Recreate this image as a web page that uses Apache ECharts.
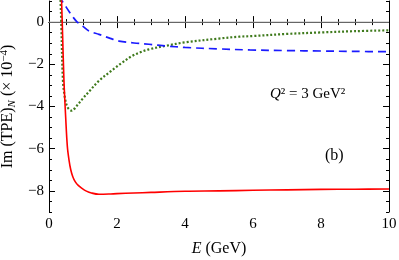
<!DOCTYPE html>
<html><head><meta charset="utf-8">
<script src="https://cdn.jsdelivr.net/npm/echarts@6/dist/echarts.min.js"></script>
<style>html,body{margin:0;padding:0;background:#fff}#c{width:399px;height:260px}</style>
</head><body><div id="c"></div>
<script>
const redE = [0.35,0.37,0.40,0.44,0.49,0.54,0.59,0.64,0.70,0.77,0.86,0.97,1.1,1.25,1.47,1.76,2.0,2.5,3.0,4.0,5.0,6.0,7.0,8.0,9.0,10.0];
const redV = [1.8,1.0,-0.6,-2.78,-4.5,-5.9,-6.55,-7.0,-7.33,-7.56,-7.74,-7.88,-8.01,-8.1,-8.16,-8.15,-8.13,-8.1,-8.07,-8.02,-8.0,-7.97,-7.95,-7.93,-7.92,-7.91];
const blueE = [0.36,0.39,0.45,0.5,0.6,0.7,0.83,1.0,1.18,1.47,1.8,2.06,2.5,2.94,3.45,4.0,5.0,5.9,7.0,8.0,9.0,10.0];
const blueV = [1.3,1.0,0.85,0.72,0.48,0.25,0.0,-0.2,-0.42,-0.58,-0.77,-0.9,-0.99,-1.05,-1.13,-1.2,-1.27,-1.32,-1.35,-1.37,-1.39,-1.4];
const greenE = [0.32,0.34,0.36,0.41,0.47,0.55,0.67,0.8,0.98,1.2,1.47,1.8,1.96,2.1,2.45,2.7,2.94,3.45,4.0,5.0,5.6,6.0,7.0,8.0,9.0,10.0];
const greenV = [2.0,1.0,0.0,-2.78,-3.6,-4.05,-4.2,-4.0,-3.65,-3.25,-2.78,-2.35,-2.15,-1.98,-1.6,-1.42,-1.29,-1.12,-0.96,-0.78,-0.69,-0.66,-0.56,-0.49,-0.43,-0.39];
const xTicks = [0,2,4,6,8,10];
const yTicks = [-8,-6,-4,-2,0];
const zeroLine = [[0,0],[10,0]];

const pairs = (a,b) => a.map((v,i)=>[v,b[i]]);
const font = 'Liberation Serif';
const minus = v => String(v).replace('-', '\u2212');

const ax = {color:'#000', width:1};
const option = {
  animation:false,
  grid:{left:49, right:10, top:1, bottom:48, containLabel:false, outerBoundsMode:'none'},
  xAxis:[
    {type:'value', min:0, max:10, interval:2, position:'bottom',
     axisLine:{lineStyle:ax}, splitLine:{show:false},
     axisTick:{inside:true, length:6, lineStyle:ax},
     minorTick:{show:true, splitNumber:4, length:3, lineStyle:ax},
     axisLabel:{fontFamily:font, fontSize:15, color:'#000', margin:5, formatter:v=>minus(v)},
     name:'{i|E} (GeV)', nameLocation:'middle', nameGap:29,
     nameTextStyle:{fontFamily:font, fontSize:16, color:'#000', rich:{i:{fontFamily:font, fontSize:16, fontStyle:'italic'}}}},
    {type:'value', min:0, max:10, interval:2, position:'top',
     axisLine:{lineStyle:ax}, splitLine:{show:false},
     axisTick:{inside:true, length:6, lineStyle:ax},
     minorTick:{show:true, splitNumber:4, length:3, lineStyle:ax},
     axisLabel:{show:false}}
  ],
  yAxis:[
    {type:'value', min:-9, max:1, position:'left',
     axisLine:{lineStyle:ax}, splitLine:{show:false},
     axisTick:{inside:true, length:6, lineStyle:ax, customValues:yTicks},
     axisLabel:{fontFamily:font, fontSize:15, color:'#000', margin:5, customValues:yTicks, formatter:v=>minus(v)},
     name:'Im (TPE){s|N} (\u00d7 10{p|\u22124})', nameLocation:'middle', nameRotate:90, nameGap:27,
     nameTextStyle:{fontFamily:font, fontSize:16, color:'#000',
       rich:{s:{fontFamily:font, fontSize:11, fontStyle:'italic', verticalAlign:'bottom', padding:[8,0,0,0]},
             p:{fontFamily:font, fontSize:11, verticalAlign:'top', padding:[0,0,8,0]}}}},
    {type:'value', min:-9, max:1, interval:0.5, position:'left',
     axisLine:{show:false}, splitLine:{show:false},
     axisTick:{inside:true, length:3, lineStyle:ax}, axisLabel:{show:false}},
    {type:'value', min:-9, max:1, position:'right',
     axisLine:{lineStyle:ax}, splitLine:{show:false},
     axisTick:{inside:true, length:6, lineStyle:ax, customValues:yTicks},
     axisLabel:{show:false}},
    {type:'value', min:-9, max:1, interval:0.5, position:'right',
     axisLine:{show:false}, splitLine:{show:false},
     axisTick:{inside:true, length:3, lineStyle:ax}, axisLabel:{show:false}}
  ],
  series:[
    {type:'line', data:zeroLine, showSymbol:false, silent:true, z:1,
     lineStyle:{color:'#acacac', width:1}},
    {type:'line', data:pairs(greenE,greenV), showSymbol:false, smooth:0.35, clip:true, z:3,
     lineStyle:{color:'#3f7a1c', width:2.2, type:[2,2]}},
    {type:'line', data:pairs(blueE,blueV), showSymbol:false, smooth:0.35, clip:true, z:3,
     lineStyle:{color:'#1a1aff', width:1.7, type:[8,5]}},
    {type:'line', data:pairs(redE,redV), showSymbol:false, smooth:0.35, clip:true, z:4,
     lineStyle:{color:'#ff0000', width:1.6}}
  ],
  graphic:[
    {type:'text', left:270, top:87, style:{text:'{i|Q}\u00b2 = 3 GeV\u00b2', fill:'#000',
      font:'15px "Liberation Serif"', rich:{i:{fontStyle:'italic', fontFamily:font, fontSize:15}}}},
    {type:'text', left:325, top:148, style:{text:'(b)', fill:'#000', font:'16px "Liberation Serif"'}}
  ]
};
const chart = echarts.init(document.getElementById('c'), null, {renderer:'canvas'});
chart.setOption(option);
</script></body></html>
